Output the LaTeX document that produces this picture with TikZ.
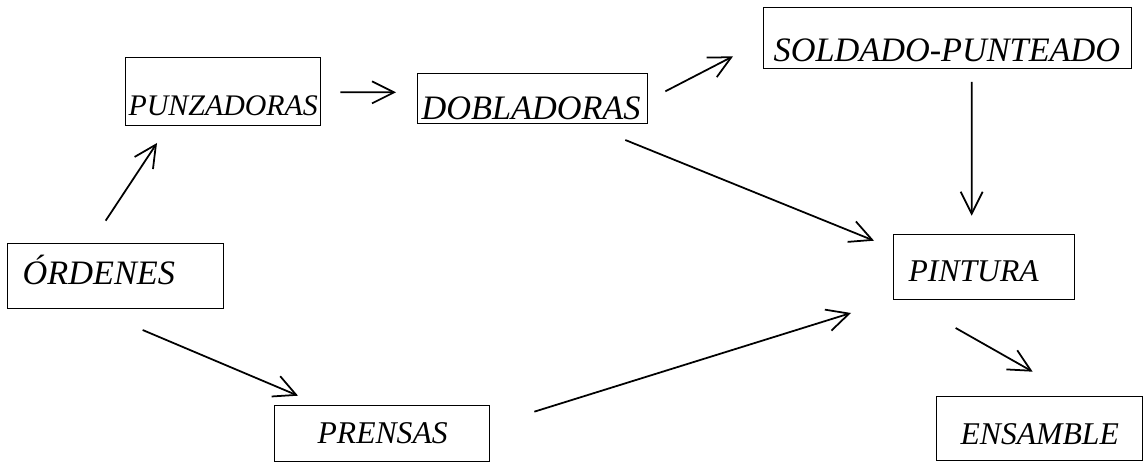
\documentclass[tikz,border=0pt]{standalone}
\usepackage{fontspec}
\setmainfont{Liberation Serif}
\usetikzlibrary{arrows.meta}
\hyphenpenalty=10000
\exhyphenpenalty=10000

\begin{document}
\begin{tikzpicture}[
    caja/.style={draw, line width=0.75pt, anchor=south west, inner ysep=0pt, align=left, font=\itshape\fontsize{19.5}{23}\selectfont},
    media/.style={font=\itshape\fontsize{18}{21}\selectfont},
    flecha/.style={line width=1pt, -{Straight Barb[length=4.4mm, width=4.4mm]}}
]
    \useasboundingbox (0,0) rectangle (22.86,9.26);
    % Estaciones
    \node[caja, inner xsep=0.30cm, text width=3.72cm, text height=0.82cm, text depth=0.48cm] (ord) at (0.14,3.08) {ÓRDENES};
    \node[caja, font=\itshape\fontsize{17}{20}\selectfont, inner xsep=0.06cm, text width=3.78cm, text height=1.16cm, text depth=0.20cm] (punz) at (2.50,6.74) {PUNZADORAS};
    \node[caja, inner xsep=0.08cm, text width=4.44cm, text height=0.92cm, text depth=0.08cm] (dobl) at (8.34,6.78) {DOBLADORAS};
    \node[caja, inner xsep=0.20cm, text width=6.96cm, text height=1.08cm, text depth=0.14cm] (sold) at (15.26,7.88) {SOLDADO-PUNTEADO};
    \node[caja, media, inner xsep=0.30cm, text width=3.02cm, text height=0.94cm, text depth=0.36cm] (pint) at (17.86,3.26) {PINTURA};
    \node[caja, media, inner xsep=0.48cm, text width=3.16cm, text height=0.96cm, text depth=0.32cm] (ens) at (18.72,0.04) {ENSAMBLE};
    \node[caja, media, inner xsep=0.86cm, text width=2.58cm, text height=0.76cm, text depth=0.36cm] (pren) at (5.48,0.02) {PRENSAS};
    % Flujo
    \draw[flecha] ([shift={(-0.20,0.44)}]ord.north) -- ([shift={(0.64,-0.34)}]punz.south west);
    \draw[flecha] ([shift={(0.38,-0.02)}]punz.east) -- ([shift={(-0.42,0.12)}]dobl.west);
    \draw[flecha] ([shift={(0.34,0.14)}]dobl.east) -- ([shift={(-0.60,-0.37)}]sold.west);
    \draw[flecha] ([shift={(0.48,-0.26)}]sold.south) -- ([shift={(-0.25,0.36)}]pint.north);
    \draw[flecha] ([shift={(-0.46,-0.32)}]dobl.south east) -- ([shift={(-0.38,-0.14)}]pint.north west);
    \draw[flecha] ([shift={(0.54,-0.42)}]ord.south) -- ([shift={(0.48,0.18)}]pren.north west);
    \draw[flecha] ([shift={(0.88,-0.14)}]pren.north east) -- ([shift={(-0.84,-0.26)}]pint.south west);
    \draw[flecha] ([shift={(-0.57,-0.56)}]pint.south) -- ([shift={(-0.14,0.48)}]ens.north);
\end{tikzpicture}
\end{document}
